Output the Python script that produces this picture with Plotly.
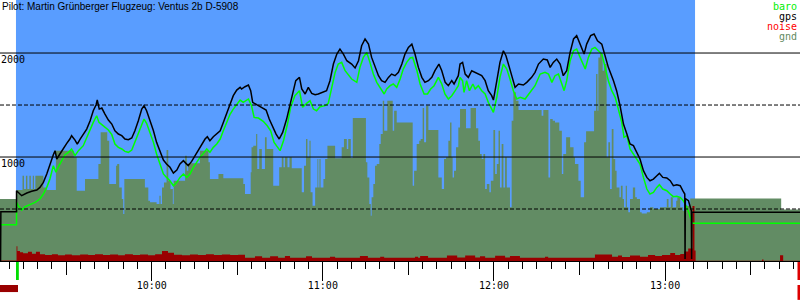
import plotly.graph_objects as go

# ---- data (time in minutes after midnight, altitude in metres) ----
t_start, t_end = 546.8, 827.3
takeoff_t, landing_t = 552.4, 790.5

gps_time = [547.0, 547.1, 552.6, 552.6, 554.4, 556.2, 557.9, 559.7, 560.8, 562.0, 563.2, 564.3, 565.5, 566.1, 566.7, 567.8, 569.0, 570.2, 571.3, 571.9, 573.1, 573.9, 574.9, 576.0, 577.2, 578.4, 579.5, 580.5, 580.9, 581.6, 582.5, 583.6, 584.8, 586.0, 587.1, 588.3, 589.5, 590.6, 591.8, 593.0, 594.1, 595.3, 596.5, 597.3, 598.2, 599.4, 600.6, 601.7, 602.9, 604.1, 605.2, 606.4, 607.6, 608.8, 609.9, 611.1, 612.0, 612.8, 614.0, 615.2, 616.3, 617.5, 618.7, 619.5, 620.4, 621.6, 622.8, 624.0, 625.1, 626.3, 627.5, 628.6, 629.8, 631.0,
            631.5, 632.7, 633.9, 634.7, 635.4, 636.8, 638.6, 640.1, 641.2, 642.4, 643.6, 644.7, 645.9, 647.3, 648.5, 649.7, 650.5, 651.8, 652.6, 653.8, 654.9, 656.1, 657.3, 658.4, 659.6, 661.3, 662.5, 663.7, 664.9, 666.0, 667.2, 668.4, 670.1, 671.3, 672.5, 673.6, 674.8, 676.0, 677.1, 678.3, 679.5, 680.6, 681.8, 683.0, 684.1, 685.3, 686.5, 687.7, 688.8, 690.0, 691.2, 692.3, 693.5, 694.7, 695.8, 697.0, 698.2, 699.3, 700.7, 701.7, 702.9, 704.0, 705.2, 706.0, 707.5,
            708.1, 709.0, 709.9, 711.0, 712.2, 713.4, 714.5, 715.7, 716.9, 718.0, 719.2, 719.8, 721.0, 722.1, 723.3, 724.2, 725.4, 726.6, 727.4, 728.6, 730.3, 731.5, 733.2, 734.4, 735.6, 737.3, 738.7, 739.7, 740.8, 742.0, 743.2, 744.3, 745.5, 746.7, 747.9, 749.0, 750.2, 751.6, 752.5, 753.9, 755.1, 756.3, 757.8, 759.0, 760.1, 761.9, 763.0, 764.2, 765.4, 766.6, 767.7, 768.9, 770.1, 771.2, 772.4, 773.6, 774.7, 775.9, 777.1, 778.0, 779.2, 780.6, 781.8, 782.9, 784.1, 785.3, 786.2, 786.9, 787.0, 787.1, 788.2, 788.8, 789.2, 789.3, 789.4, 827.3]
gps_alt = [0, 474, 474, 676, 628, 654, 670, 683, 708, 756, 837, 933, 1022, 1061, 981, 1029, 1086, 1131, 1173, 1205, 1163, 1125, 1173, 1221, 1269, 1349, 1445, 1503, 1548, 1461, 1471, 1413, 1356, 1317, 1253, 1221, 1205, 1173, 1167, 1183, 1253, 1349, 1461, 1494, 1445, 1349, 1253, 1141, 1045, 971, 933, 901, 846, 875, 933, 965, 939, 917, 958, 1013, 1077, 1125, 1173, 1195, 1157, 1195, 1221, 1253, 1333, 1413, 1510, 1590, 1644, 1670,
           1654, 1676, 1692, 1638, 1526, 1503, 1478, 1452, 1365, 1285, 1221, 1173, 1237, 1365, 1510, 1638, 1734, 1766, 1654, 1606, 1670, 1612, 1599, 1606, 1619, 1638, 1734, 1894, 1990, 2038, 1990, 1926, 1894, 1856, 1926, 2070, 2135, 2086, 1958, 1862, 1782, 1734, 1718, 1766, 1798, 1782, 1814, 1894, 1990, 2054, 2086, 1990, 1862, 1766, 1718, 1734, 1766, 1830, 1894, 1830, 1718, 1686, 1734, 1702, 1782,
           1894, 1910, 1798, 1766, 1830, 1814, 1798, 1782, 1734, 1638, 1590, 1548, 1734, 1910, 2022, 1974, 1862, 1750, 1670, 1702, 1692, 1718, 1766, 1814, 1894, 1942, 1933, 1862, 1910, 1942, 1894, 1782, 1830, 2006, 2135, 2167, 2086, 1990, 2086, 2167, 2183, 2118, 2086, 1974, 1862, 1734, 1638, 1494, 1317, 1221, 1125, 1109, 1045, 981, 869, 804, 772, 788, 820, 843, 804, 798, 772, 724, 734, 724, 676, 644, 20, 600, 580, 532, 484, 20, 468, 468]

baro_time = [546.8, 552.6, 552.6, 553.2, 554.4, 555.6, 557.3, 559.1, 560.8, 562.0, 563.2, 564.3, 565.5, 566.4, 567.3, 568.4, 569.6, 570.8, 571.9, 573.1, 574.3, 576.0, 577.2, 578.4, 579.5, 580.7, 581.5, 582.5, 583.6, 584.8, 586.0, 587.1, 588.3, 589.5, 590.6, 591.8, 593.0, 594.1, 595.3, 596.5, 597.3, 598.2, 599.4, 600.6, 601.7, 602.9, 604.1, 605.2, 606.4, 607.6, 608.8, 609.9, 611.1, 612.3, 613.4, 614.6, 615.8, 616.9, 618.1, 619.3, 620.4, 621.6, 622.8, 624.0, 625.1, 626.3, 627.5, 628.6, 629.8, 631.0,
             632.1, 633.9, 635.0, 635.9, 637.4, 639.1, 640.5, 641.7, 642.9, 644.4, 645.0, 646.2, 647.6, 648.7, 650.2, 651.8, 652.9, 654.3, 655.5, 656.7, 657.8, 659.0, 660.8, 661.9, 663.1, 664.3, 665.4, 666.6, 667.8, 669.0, 670.1, 671.9, 673.0, 674.2, 675.4, 676.5, 677.7, 678.9, 680.1, 681.5, 682.4, 683.6, 684.7, 685.9, 687.1, 688.2, 689.4, 690.6, 691.5, 693.0, 694.1, 695.5, 696.7, 697.8, 699.0, 700.5, 701.7, 702.8, 704.0, 705.2, 706.4, 707.5,
             708.1, 709.0, 709.5, 710.4, 711.4, 712.6, 713.4, 714.5, 715.7, 716.9, 718.0, 719.2, 719.8, 721.0, 722.1, 723.3, 724.5, 725.6, 726.8, 728.0, 729.2, 730.9, 732.7, 734.4, 736.2, 737.9, 739.1, 740.3, 741.4, 742.6, 743.8, 744.6, 745.5, 746.7, 747.9, 749.0, 750.2, 752.0, 753.1, 754.3, 755.4, 756.6, 757.8, 759.0, 760.1, 761.3, 762.5, 763.6, 764.8, 765.6, 766.6, 767.7, 768.9, 770.1, 771.2, 772.4, 773.6, 774.7, 775.9, 777.1, 778.0, 779.2, 780.6, 781.8, 782.9, 784.1, 785.3, 786.4, 787.6, 788.5, 789.4, 827.3]
baro_alt = [349, 349, 564, 532, 490, 522, 542, 564, 596, 644, 708, 788, 917, 853, 907, 965, 1022, 1045, 1077, 1013, 1061, 1109, 1189, 1253, 1333, 1397, 1333, 1311, 1285, 1260, 1215, 1125, 1093, 1077, 1054, 1045, 1067, 1141, 1237, 1317, 1365, 1324, 1237, 1141, 1029, 933, 837, 804, 772, 724, 756, 804, 837, 804, 837, 901, 958, 997, 1035, 1077, 1045, 1093, 1125, 1173, 1253, 1333, 1413, 1461, 1510, 1548,
            1526, 1558, 1494, 1381, 1375, 1343, 1301, 1253, 1141, 1077, 1061, 1157, 1317, 1478, 1590, 1638, 1478, 1516, 1542, 1461, 1445, 1484, 1494, 1516, 1670, 1814, 1894, 1910, 1830, 1782, 1750, 1718, 1862, 1958, 2006, 1910, 1798, 1718, 1670, 1606, 1654, 1686, 1702, 1670, 1750, 1846, 1910, 1952, 1958, 1830, 1702, 1606, 1606, 1654, 1686, 1766, 1702, 1606, 1558, 1590, 1638, 1686,
            1766, 1734, 1622, 1734, 1638, 1702, 1654, 1686, 1638, 1606, 1526, 1461, 1429, 1574, 1766, 1894, 1846, 1750, 1638, 1558, 1574, 1558, 1622, 1686, 1798, 1814, 1798, 1718, 1782, 1798, 1702, 1638, 1734, 1926, 2022, 2038, 1958, 1846, 1958, 2038, 2054, 2022, 1990, 1862, 1734, 1638, 1574, 1461, 1333, 1189, 1205, 1077, 1029, 981, 933, 804, 692, 644, 660, 708, 734, 692, 676, 644, 619, 622, 612, 580, 516, 452, 362, 363]

gnd_time = [546.8, 552.6, 554.7, 555.2, 555.9, 556.4, 557.1, 557.6, 558.3, 558.7, 559.2, 562.0, 563.2, 566.4, 572.7, 573.7, 576.6, 581.3, 582.1, 584.4, 585.1, 587.5, 587.9, 588.6, 589.5, 590.0, 590.4, 597.6, 598.8, 599.4, 601.7, 602.7, 603.1, 603.6, 604.3, 605.2, 605.8, 606.6, 607.4, 607.7, 611.7, 612.3, 612.8, 616.9, 619.9, 620.4, 623.4, 625.1,
            632.1, 632.7, 634.7, 635.0, 635.6, 636.6, 637.0, 637.7, 638.6, 639.7, 640.3, 642.6, 644.7, 645.6, 646.2, 646.7, 647.6, 648.3, 649.1, 652.6, 653.4, 654.1, 654.6, 655.3, 655.7, 656.4, 657.3, 658.1, 658.4, 658.8, 659.2, 660.2, 660.8, 661.6, 664.3, 666.6, 667.4, 668.4, 668.9, 669.8, 670.5, 675.1, 675.6, 676.3, 676.8, 677.1, 677.7, 678.3, 678.9, 679.8, 680.3, 681.0, 681.5, 682.6, 684.5, 685.0, 685.9, 691.5, 692.0, 692.9, 693.8, 694.3, 695.0, 695.5, 696.2, 697.0, 700.5, 701.7, 702.5, 703.2, 704.0, 704.6, 705.1, 705.5, 706.0, 706.7, 707.5, 708.1,
            710.2, 711.8, 713.7, 714.5, 715.1, 715.7, 716.3, 716.9, 717.5, 718.4, 718.9, 719.8, 720.4, 721.0, 721.6, 722.1, 722.7, 723.3, 723.9, 724.5, 725.6, 726.2, 726.8, 727.7, 728.6, 736.7, 737.3, 739.1, 739.7, 740.6, 741.4, 742.9, 743.8, 744.3, 745.3, 746.7, 747.9, 748.4, 749.6, 750.4, 751.6, 752.3, 755.1, 755.8, 756.3, 756.6, 757.2, 758.1, 758.6, 759.5, 760.1, 760.7, 761.3, 761.9, 762.5, 763.0, 764.0, 764.5, 765.1, 765.6, 766.2, 766.6, 767.1, 767.7, 768.7, 769.5, 770.1, 771.2, 771.8, 773.6, 774.7, 775.9, 778.2, 780.6, 781.2, 782.0, 782.7, 783.9, 784.3, 785.3, 786.2, 787.0, 788.8, 820.7, 827.3]
gnd_alt = [596, 683, 820, 692, 820, 692, 820, 692, 820, 692, 820, 708, 683, 1061, 997, 676, 788, 933, 1237, 1157, 740, 917, 933, 708, 596, 452, 788, 708, 580, 564, 548, 628, 548, 708, 756, 1067, 772, 692, 548, 772, 1013, 869, 939, 1061, 949, 788, 837, 795,
           740, 644, 853, 1093, 1109, 1221, 885, 1077, 885, 1189, 1077, 724, 901, 997, 901, 997, 901, 997, 891, 660, 917, 1173, 997, 1157, 660, 532, 708, 981, 708, 981, 708, 788, 981, 1109, 987, 1093, 1173, 1077, 1173, 990, 1375, 949, 804, 548, 436, 612, 740, 917, 933, 1125, 1221, 1542, 1253, 1542, 1253, 1445, 1333, 724, 869, 1125, 1157, 1173, 1471, 1141, 1494, 1260, 804, 692, 981, 997, 1157, 1333, 997, 804, 869, 1093, 1285, 1461,
           1276, 1471, 1276, 1157, 1029, 981, 1029, 692, 740, 660, 772, 1260, 837, 933, 1253, 708, 1125, 708, 997, 708, 516, 1349, 1622, 1542, 1452, 1397, 1452, 804, 1365, 1349, 1333, 1253, 837, 1029, 1189, 1093, 997, 933, 772, 612, 1141, 1247, 1445, 1798, 1445, 1958, 1990, 1830, 1894, 997, 1141, 692, 1269, 981, 869, 708, 612, 724, 596, 516, 724, 516, 468, 596, 708, 612, 596, 468, 458, 468, 516, 500, 516, 596, 516, 612, 516, 580, 612, 516, 484, 532, 600, 495, 495]

noise_time = [546.8, 552.6, 552.9, 553.8, 554.9, 556.6, 558.0, 559.4, 560.8, 562.6, 565.0, 567.1, 569.6, 572.0, 574.9, 577.7, 580.1, 582.9, 585.4, 588.2, 590.6, 593.4, 595.9, 598.7, 601.2, 603.6, 605.7, 607.8, 610.6, 613.4, 616.2, 619.0, 621.8, 624.6, 627.5, 630.3, 632.7, 636.2, 638.7, 641.5, 644.3, 646.7, 648.5, 654.1, 656.2, 662.5, 664.3, 673.0, 675.8, 680.1, 681.5, 692.3, 693.4, 694.1, 696.9, 703.5, 707.1, 709.9, 713.4, 715.1, 716.9, 720.4, 723.9, 725.6, 729.1, 737.9, 739.0, 755.4, 761.4, 763.5, 764.9, 767.7, 771.2, 774.0, 776.5, 778.9, 781.8, 783.5, 785.3, 786.7, 788.1, 789.6, 790.3, 790.7, 814.0, 814.5, 820.3, 821.4, 827.3]
noise_alt = [5, 141, 95, 85, 75, 90, 70, 88, 65, 58, 65, 55, 62, 55, 62, 58, 65, 58, 62, 55, 65, 58, 62, 55, 65, 95, 80, 60, 55, 62, 58, 65, 58, 62, 58, 60, 32, 45, 32, 45, 32, 48, 32, 45, 32, 42, 32, 48, 32, 42, 32, 42, 32, 48, 32, 52, 34, 52, 34, 45, 32, 50, 34, 48, 32, 42, 32, 62, 42, 52, 38, 52, 42, 58, 48, 58, 78, 58, 68, 92, 120, 530, 100, 3, 15, 3, 55, 3, 3]

hour_ticks = [600, 660, 720, 780]
hour_labels = ["10:00", "11:00", "12:00", "13:00"]
half_hour_ticks = [570, 630, 690, 750, 810]
h_solid = [1000, 2000]
h_dashed = [500, 1500]

legend_items = [("baro", "#00ee00"), ("gps", "#000000"), ("noise", "#ff0000"), ("gnd", "#5f8a5f")]
title_text = "Pilot: Martin Grünberger Flugzeug: Ventus 2b D-5908"

BLUE = "#599dff"
GND = "#628c64"
NOISE = "#990000"

fig = go.Figure()
fig.add_trace(go.Scatter(x=gnd_time, y=gnd_alt, mode="lines", line=dict(width=0, shape="hv"),
                         fill="tozeroy", fillcolor=GND, hoverinfo="skip"))
fig.add_trace(go.Scatter(x=noise_time, y=noise_alt, mode="lines", line=dict(width=0, shape="hv"),
                         fill="tozeroy", fillcolor=NOISE, hoverinfo="skip"))
fig.add_trace(go.Scatter(x=baro_time, y=baro_alt, mode="lines", line=dict(color="#00ff00", width=1.5)))
fig.add_trace(go.Scatter(x=gps_time, y=gps_alt, mode="lines", line=dict(color="#000000", width=1.5)))
# invisible trace for half-hour ticks axis
fig.add_trace(go.Scatter(x=[t_start, t_end], y=[0, 0], xaxis="x2", mode="lines",
                         line=dict(width=0), hoverinfo="skip"))

shapes = [dict(type="rect", xref="x", yref="paper", x0=takeoff_t, x1=landing_t, y0=0, y1=1,
               fillcolor=BLUE, line=dict(width=0), layer="below")]
for v in h_solid:
    shapes.append(dict(type="line", xref="paper", yref="y", x0=0, x1=1, y0=v, y1=v,
                       line=dict(color="black", width=1), layer="above"))
for v in h_dashed:
    shapes.append(dict(type="line", xref="paper", yref="y", x0=0, x1=1, y0=v, y1=v,
                       line=dict(color="black", width=1, dash="4px,2px"), layer="above"))
# takeoff / landing markers below the axis
shapes.append(dict(type="rect", xref="x", yref="paper", x0=takeoff_t, x1=takeoff_t + 1.0,
                   y0=-0.0728, y1=-0.004, fillcolor="#00dd00", line=dict(width=0)))
shapes.append(dict(type="rect", xref="paper", yref="paper", x0=0, x1=18 / 800,
                   y0=-0.119, y1=-0.092, fillcolor=NOISE, line=dict(width=0)))
shapes.append(dict(type="rect", xref="paper", yref="paper", x0=797.5 / 800, x1=1,
                   y0=-0.0728, y1=-0.004, fillcolor="#dd0000", line=dict(width=0)))
shapes.append(dict(type="rect", xref="paper", yref="paper", x0=797.5 / 800, x1=1,
                   y0=-0.149, y1=-0.092, fillcolor="#dd0000", line=dict(width=0)))

annotations = [dict(text=title_text, xref="paper", yref="paper", x=0, y=1 - 6.5 / 261,
                    xanchor="left", yanchor="middle", showarrow=False,
                    font=dict(family="Liberation Sans", size=10, color="black"))]
for v in h_solid:
    annotations.append(dict(text=str(v), xref="paper", yref="y", x=0, y=v, xanchor="left",
                            yanchor="top", showarrow=False, borderpad=0,
                            font=dict(family="DejaVu Sans Mono", size=10, color="black")))
for i, (name, col) in enumerate(legend_items):
    annotations.append(dict(text=name, xref="paper", yref="paper", x=798 / 800,
                            y=1 - (6.5 + 10 * i) / 261, xanchor="right", yanchor="middle",
                            showarrow=False, borderpad=0,
                            font=dict(family="DejaVu Sans Mono", size=10, color=col)))

fig.update_layout(
    width=800, height=300, margin=dict(l=0, r=0, t=0, b=39, pad=0),
    paper_bgcolor="white", plot_bgcolor="white", showlegend=False,
    shapes=shapes, annotations=annotations,
    xaxis=dict(range=[t_start, t_end], showgrid=False, zeroline=False, showline=True,
               linecolor="black", linewidth=1, ticks="outside", ticklen=19, tickcolor="black",
               tickwidth=1, tickmode="array", tickvals=hour_ticks, ticktext=hour_labels,
               ticklabelstandoff=-4,
               tickfont=dict(family="DejaVu Sans Mono", size=10, color="black"),
               minor=dict(tickmode="linear", tick0=600, dtick=5, ticks="outside", ticklen=7,
                          tickcolor="black", tickwidth=1, showgrid=False)),
    xaxis2=dict(range=[t_start, t_end], overlaying="x", anchor="y", side="bottom",
                showgrid=False, zeroline=False, showline=False, ticks="outside", ticklen=13,
                tickcolor="black", tickwidth=1, tickmode="array", tickvals=half_hour_ticks,
                showticklabels=False),
    yaxis=dict(range=[0, 2510], showgrid=False, zeroline=False, showticklabels=False,
               ticks="", showline=False),
)

fig.write_html("out.html")
